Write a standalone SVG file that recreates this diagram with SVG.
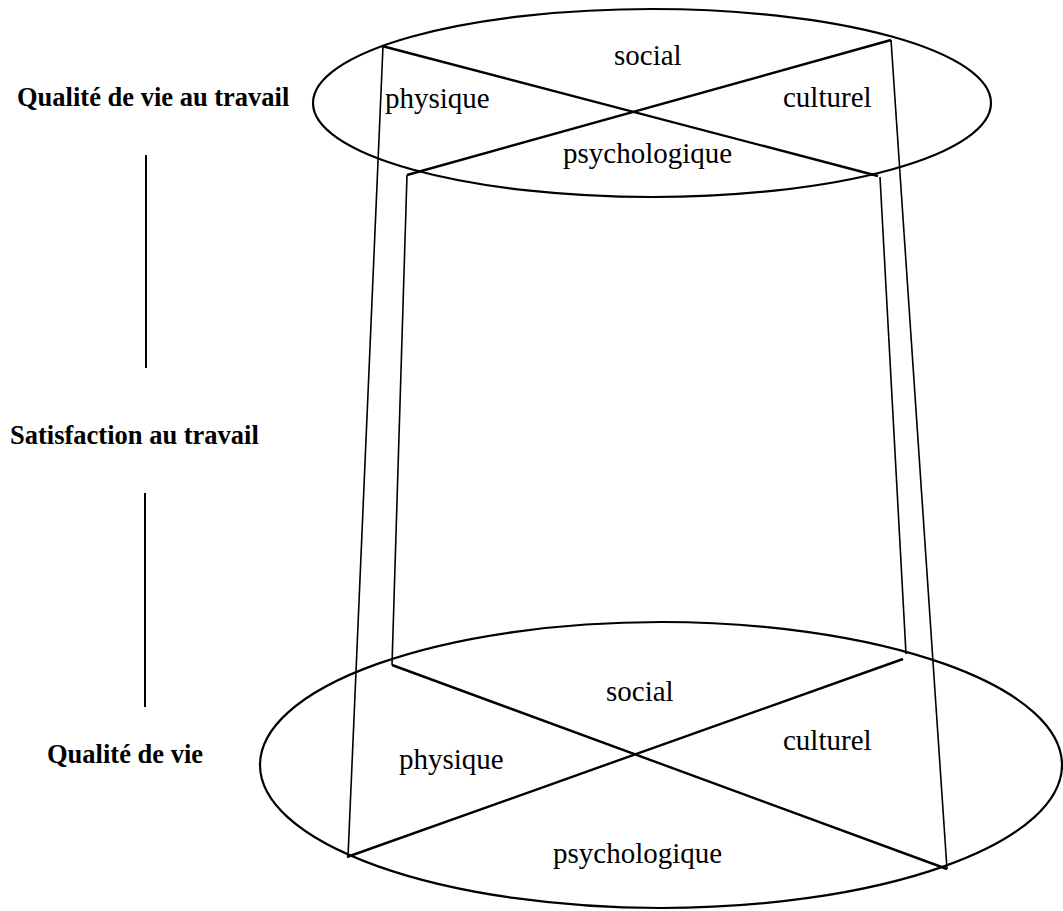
<svg xmlns="http://www.w3.org/2000/svg" width="1063" height="911" viewBox="0 0 1063 911">
  <style>
    .shape { fill: none; stroke: #000; stroke-width: 2.2; }
    .cross { fill: none; stroke: #000; stroke-width: 2.4; stroke-linecap: butt; }
    .post { fill: none; stroke: #000; stroke-width: 1.6; }
    .axis { fill: none; stroke: #000; stroke-width: 2; }
    .dim { font-family: "Liberation Serif", "Times New Roman", serif; font-size: 29px; fill: #000; }
    .level { font-family: "Liberation Serif", "Times New Roman", serif; font-size: 26.5px; font-weight: bold; fill: #000; }
  </style>
  <rect width="1063" height="911" fill="#fff"/>

  <!-- level names on the left -->
  <g id="label-qvt">
    <text class="level" x="17" y="106">Qualité de vie au travail</text>
  </g>
  <g id="label-satisfaction">
    <text class="level" x="10" y="444">Satisfaction au travail</text>
  </g>
  <g id="label-qv">
    <text class="level" x="47" y="763">Qualité de vie</text>
  </g>

  <!-- upper disc: work life quality -->
  <g id="disc-top">
    <ellipse class="shape" cx="652" cy="103" rx="339" ry="94"/>
    <line class="cross" x1="382" y1="46" x2="878" y2="176"/>
    <line class="cross" x1="891" y1="40" x2="407" y2="175"/>
    <text class="dim" x="614" y="65">social</text>
    <text class="dim" x="385" y="108">physique</text>
    <text class="dim" x="783" y="107">culturel</text>
    <text class="dim" x="563" y="163">psychologique</text>
  </g>

  <!-- lower disc: life quality -->
  <g id="disc-bottom">
    <ellipse class="shape" cx="661" cy="765" rx="401" ry="143"/>
    <line class="cross" x1="392" y1="665" x2="947" y2="869"/>
    <line class="cross" x1="347" y1="857" x2="903" y2="659"/>
    <text class="dim" x="606" y="701">social</text>
    <text class="dim" x="399" y="769">physique</text>
    <text class="dim" x="783" y="750">culturel</text>
    <text class="dim" x="553" y="863">psychologique</text>
  </g>

  <!-- connectors: posts joining the two discs, and the left axis -->
  <g id="connectors">
    <line class="post" x1="383" y1="46" x2="348" y2="857"/>
    <line class="post" x1="407" y1="175" x2="392" y2="665"/>
    <line class="post" x1="880" y1="177" x2="906" y2="654"/>
    <line class="post" x1="891" y1="40" x2="947" y2="869"/>
    <line class="axis" x1="146" y1="155" x2="146" y2="368"/>
    <line class="axis" x1="145" y1="493" x2="145" y2="707"/>
  </g>
</svg>
